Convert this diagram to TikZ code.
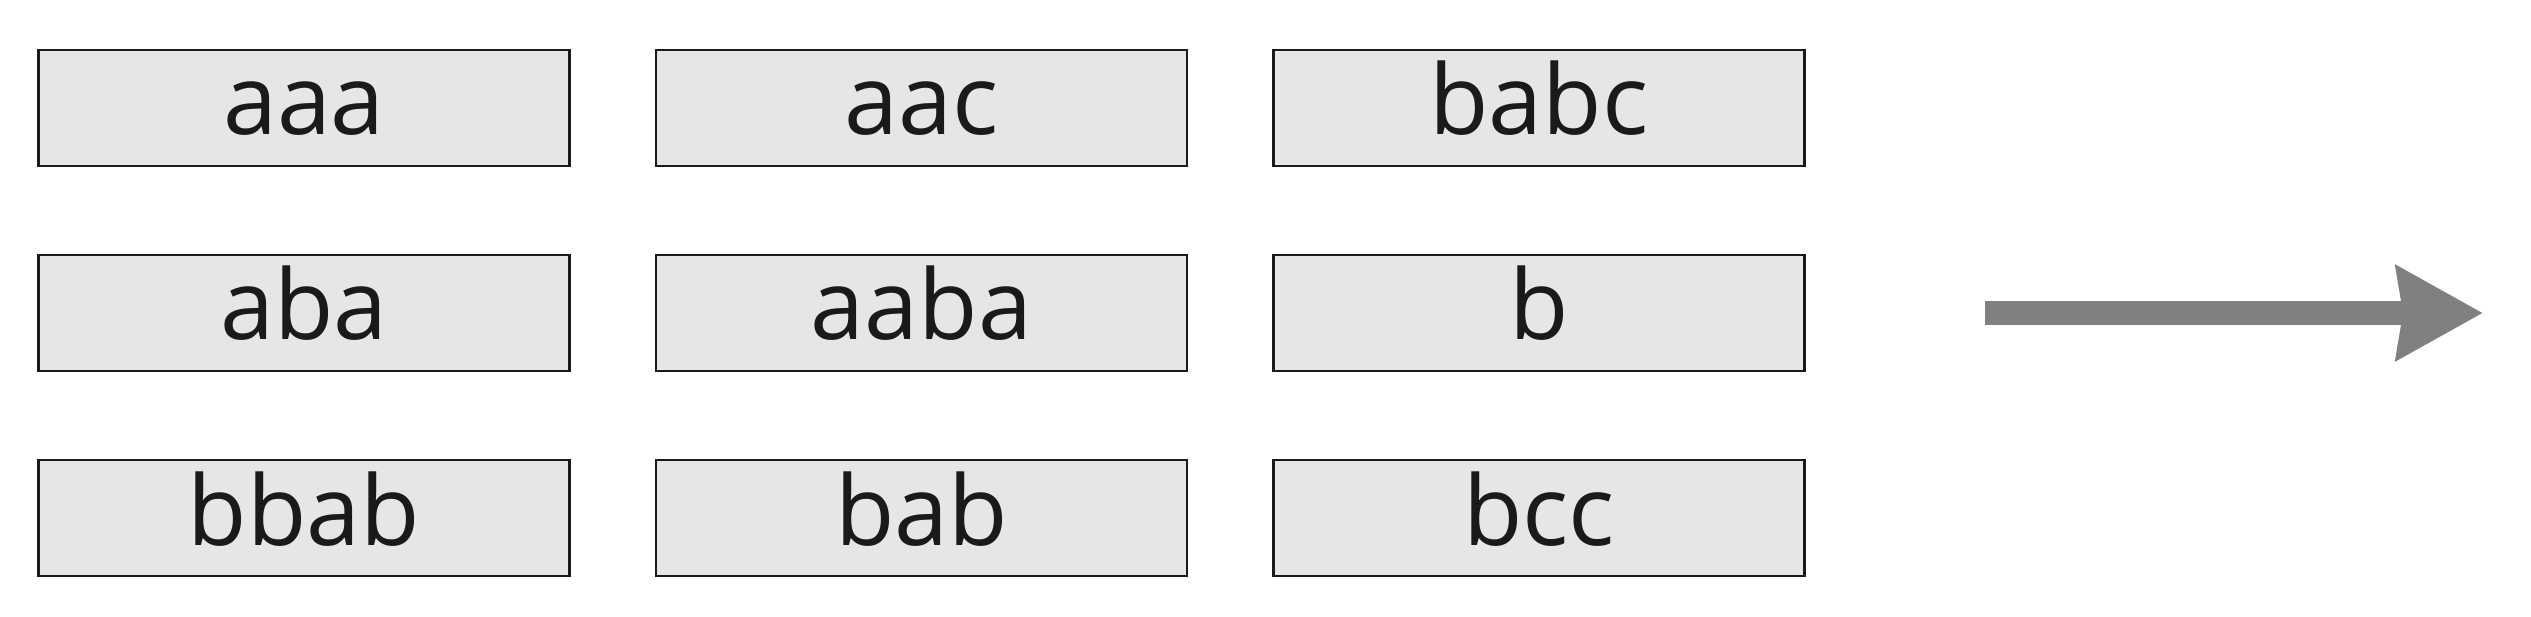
\documentclass[tikz,border=0pt]{standalone}
\usepackage{fontspec}
\setmainfont{Open Sans}
\usetikzlibrary{arrows.meta}
\definecolor{boxfill}{HTML}{E6E6E6}
\definecolor{boxline}{HTML}{1A1A1A}
\definecolor{arrowgray}{HTML}{808080}
\begin{document}
\begin{tikzpicture}[x=1pt,y=-1pt,
  cell/.style={draw=boxline, fill=boxfill, line width=2.5pt, minimum width=531pt, minimum height=116pt,
    inner sep=0pt, text height=62pt, text depth=8pt, text=boxline,
    font=\fontsize{97}{100}\selectfont}]
\useasboundingbox (0,0) rectangle (2531,617);
\node[cell] (n11) at (304,108) {aaa};
\node[cell] (n12) at (921.5,108) {aac};
\node[cell] (n13) at (1539,108) {babc};
\node[cell] (n21) at (304,313) {aba};
\node[cell] (n22) at (921.5,313) {aaba};
\node[cell] (n23) at (1539,313) {b};
\node[cell] (n31) at (304,518) {bbab};
\node[cell] (n32) at (921.5,518) {bab};
\node[cell] (n33) at (1539,518) {bcc};
\coordinate (as) at (1985,313);
\coordinate (ae) at (2483,313);
\draw[line width=24pt, arrowgray, -{Stealth[length=86pt,width=92pt,inset=6pt]}] (as) -- (ae);
\end{tikzpicture}
\end{document}
